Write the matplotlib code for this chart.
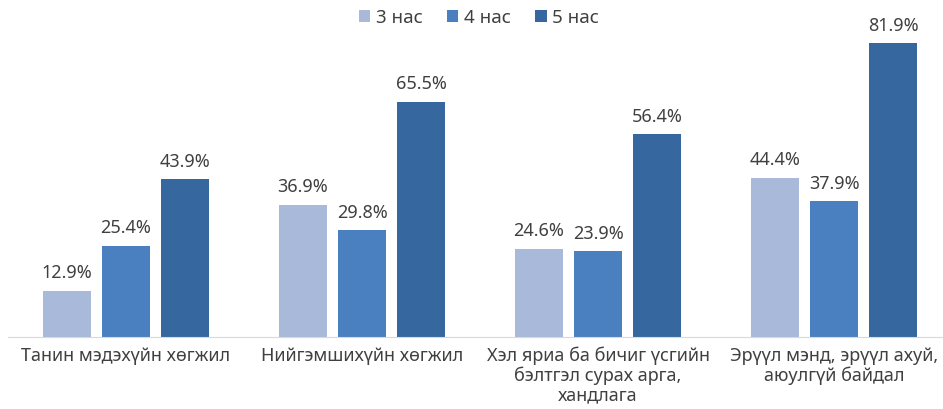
import numpy as np
import matplotlib.pyplot as plt

plt.rcParams['font.family'] = ['Noto Sans', 'DejaVu Sans']

# data
categories = ["Танин мэдэхүйн хөгжил",
              "Нийгэмшихүйн хөгжил",
              "Хэл яриа ба бичиг үсгийн\nбэлтгэл сурах арга,\nхандлага",
              "Эрүүл мэнд, эрүүл ахуй,\nаюулгүй байдал"]
series_names = ["3 нас", "4 нас", "5 нас"]
age3 = [12.9, 36.9, 24.6, 44.4]
age4 = [25.4, 29.8, 23.9, 37.9]
age5 = [43.9, 65.5, 56.4, 81.9]
colors = ["#A9B9D9", "#4A7FC0", "#36679E"]
text_color = "#404040"

fig = plt.figure(figsize=(9.43, 4.09), dpi=100)
ax = fig.add_axes([8/943, (409-337)/409, 944/943, (337-30)/409])

x = np.arange(len(categories))
width = 0.2
step = 0.25
for i, (vals, name) in enumerate(zip([age3, age4, age5], series_names)):
    pos = x + (i - 1) * step
    bars = ax.bar(pos, vals, width, color=colors[i], label=name)
    for b, v in zip(bars, vals):
        ax.annotate(f"{v:.1f}%", (b.get_x() + b.get_width()/2, v),
                    xytext=(0, 6), textcoords="offset points",
                    ha="center", va="bottom", fontsize=13, color=text_color)

ax.set_xlim(-0.5, 3.5)
ax.set_ylim(0, 85.5)
ax.set_yticks([])
ax.set_xticks(x)
ax.set_xticklabels(categories, fontsize=13, color=text_color, linespacing=1.1)
ax.tick_params(axis='x', length=0, pad=7)
for s in ['top', 'right', 'left']:
    ax.spines[s].set_visible(False)
ax.spines['bottom'].set_color("#D9D9D9")

fig.legend(loc="upper center", bbox_to_anchor=(0.508, 1.02), ncol=3, frameon=False,
           fontsize=13.5, handlelength=0.6, handleheight=0.6, handletextpad=0.3,
           columnspacing=1.3, labelcolor=text_color)

fig.savefig("out.png", dpi=100)
